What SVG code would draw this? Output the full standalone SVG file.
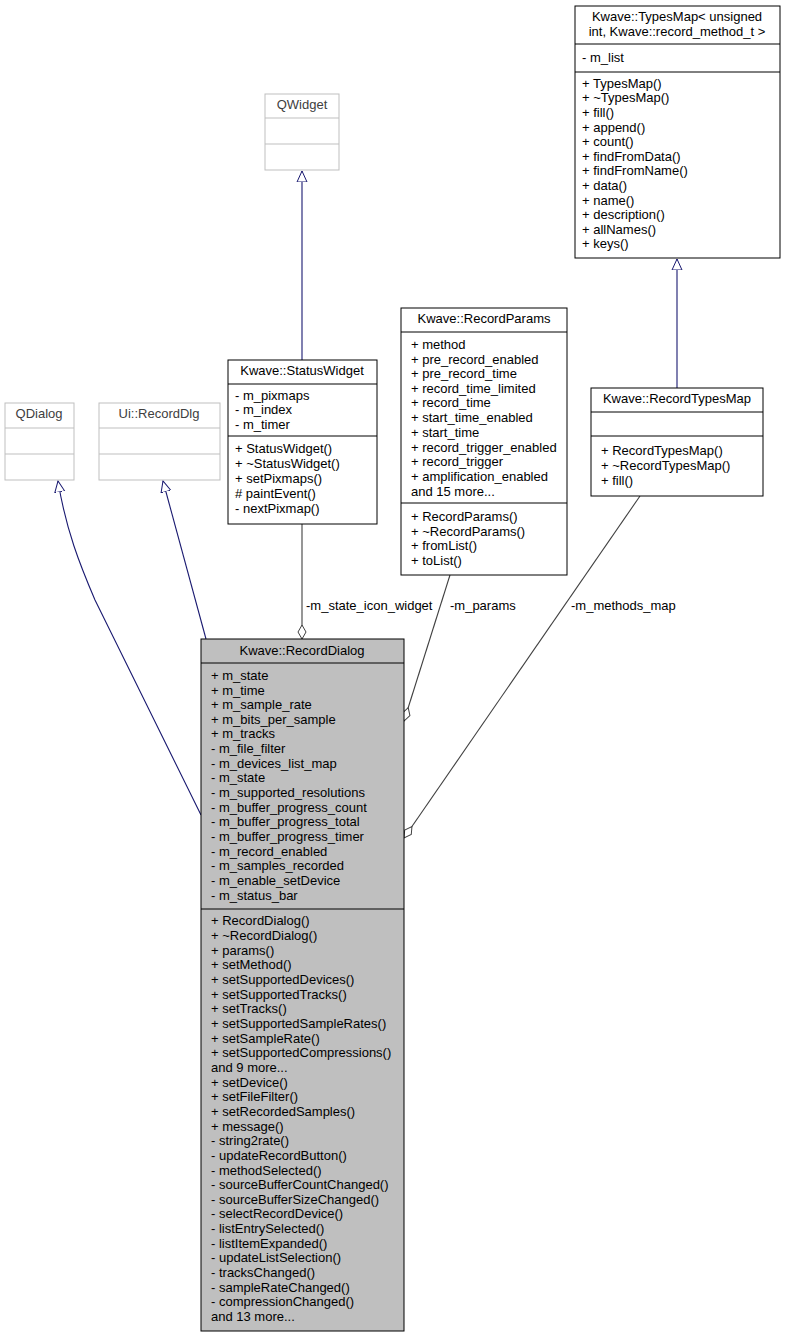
<svg xmlns="http://www.w3.org/2000/svg" width="785" height="1337" viewBox="0 0 785 1337">
<style>
text{font-family:"Liberation Sans",Arial,sans-serif;font-size:13px;fill:#000}
.c{text-anchor:middle}
.b{fill:#fff;stroke:#000;stroke-width:1}
.g{fill:#fff;stroke:#bfbfbf;stroke-width:1}
.s{stroke:#000;stroke-width:1}
.sg{stroke:#bfbfbf;stroke-width:1}
.gt{fill:#404040}
.inh{fill:none;stroke:#191970;stroke-width:1.1}
.cmp{fill:none;stroke:#404040;stroke-width:1.1}
</style>
<defs>
<marker id="tri" markerWidth="12" markerHeight="12" refX="11" refY="5" orient="auto" markerUnits="userSpaceOnUse" viewBox="0 0 12 10"><path d="M0,0 L11,5 L0,10 Z" fill="#fff" stroke="#191970"/></marker>
<marker id="dia" markerWidth="16" markerHeight="10" refX="15" refY="5" orient="auto" markerUnits="userSpaceOnUse" viewBox="0 0 16 10"><path d="M1,5 L8,1 L15,5 L8,9 Z" fill="#fff" stroke="#404040"/></marker>
</defs>
<rect width="785" height="1337" fill="#fff"/>
<g id="edges">
<path class="inh" d="M302,360 L302,171" marker-end="url(#tri)"/>
<path class="inh" d="M677,388 L677,259" marker-end="url(#tri)"/>
<path class="inh" d="M201,815 L95,600 C80,565 66,530 58,481" marker-end="url(#tri)"/>
<path class="inh" d="M206,639 L163,481" marker-end="url(#tri)"/>
<path class="cmp" d="M302,524 L302,639" marker-end="url(#dia)"/>
<path class="cmp" d="M450,575 L404,721" marker-end="url(#dia)"/>
<path class="cmp" d="M640,496 L404,838" marker-end="url(#dia)"/>
<text x="306" y="610">-m_state_icon_widget</text>
<text x="450" y="610">-m_params</text>
<text x="571" y="610">-m_methods_map</text>
</g>
<g id="typesmap">
<rect class="b" x="575" y="6" width="205" height="252"/>
<text class="c" x="677" y="21">Kwave::TypesMap&lt; unsigned</text>
<text class="c" x="677" y="36"> int, Kwave::record_method_t &gt;</text>
<line class="s" x1="575" y1="44" x2="780" y2="44"/>
<text x="582" y="62">- m_list</text>
<line class="s" x1="575" y1="72" x2="780" y2="72"/>
<text x="582" y="88">+ TypesMap()</text>
<text x="582" y="102">+ ~TypesMap()</text>
<text x="582" y="117">+ fill()</text>
<text x="582" y="132">+ append()</text>
<text x="582" y="146">+ count()</text>
<text x="582" y="161">+ findFromData()</text>
<text x="582" y="175">+ findFromName()</text>
<text x="582" y="190">+ data()</text>
<text x="582" y="205">+ name()</text>
<text x="582" y="219">+ description()</text>
<text x="582" y="234">+ allNames()</text>
<text x="582" y="248">+ keys()</text>
</g>
<g id="qwidget">
<rect class="g" x="265" y="94" width="74" height="76"/>
<text class="c gt" x="302" y="109">QWidget</text>
<line class="sg" x1="265" y1="118" x2="339" y2="118"/>
<line class="sg" x1="265" y1="144" x2="339" y2="144"/>
</g>
<g id="statuswidget">
<rect class="b" x="228" y="360" width="149" height="164"/>
<text class="c" x="302" y="375">Kwave::StatusWidget</text>
<line class="s" x1="228" y1="384" x2="377" y2="384"/>
<text x="235" y="400">- m_pixmaps</text>
<text x="235" y="414">- m_index</text>
<text x="235" y="429">- m_timer</text>
<line class="s" x1="228" y1="436" x2="377" y2="436"/>
<text x="235" y="453">+ StatusWidget()</text>
<text x="235" y="468">+ ~StatusWidget()</text>
<text x="235" y="483">+ setPixmaps()</text>
<text x="235" y="498"># paintEvent()</text>
<text x="235" y="513">- nextPixmap()</text>
</g>
<g id="recordparams">
<rect class="b" x="401" y="308" width="166" height="267"/>
<text class="c" x="484" y="323">Kwave::RecordParams</text>
<line class="s" x1="401" y1="332" x2="567" y2="332"/>
<text x="411" y="349">+ method</text>
<text x="411" y="364">+ pre_record_enabled</text>
<text x="411" y="378">+ pre_record_time</text>
<text x="411" y="393">+ record_time_limited</text>
<text x="411" y="407">+ record_time</text>
<text x="411" y="422">+ start_time_enabled</text>
<text x="411" y="437">+ start_time</text>
<text x="411" y="452">+ record_trigger_enabled</text>
<text x="411" y="466">+ record_trigger</text>
<text x="411" y="481">+ amplification_enabled</text>
<text x="411" y="496">and 15 more...</text>
<line class="s" x1="401" y1="503" x2="567" y2="503"/>
<text x="411" y="521">+ RecordParams()</text>
<text x="411" y="536">+ ~RecordParams()</text>
<text x="411" y="550">+ fromList()</text>
<text x="411" y="565">+ toList()</text>
</g>
<g id="recordtypesmap">
<rect class="b" x="591" y="388" width="172" height="108"/>
<text class="c" x="677" y="403">Kwave::RecordTypesMap</text>
<line class="s" x1="591" y1="412" x2="763" y2="412"/>
<line class="s" x1="591" y1="436" x2="763" y2="436"/>
<text x="601" y="455">+ RecordTypesMap()</text>
<text x="601" y="470">+ ~RecordTypesMap()</text>
<text x="601" y="485">+ fill()</text>
</g>
<g id="qdialog">
<rect class="g" x="5" y="403" width="69" height="77"/>
<text class="c gt" x="39" y="418">QDialog</text>
<line class="sg" x1="5" y1="428" x2="74" y2="428"/>
<line class="sg" x1="5" y1="454" x2="74" y2="454"/>
</g>
<g id="uirecorddlg">
<rect class="g" x="99" y="403" width="121" height="77"/>
<text class="c gt" x="159" y="418">Ui::RecordDlg</text>
<line class="sg" x1="99" y1="428" x2="220" y2="428"/>
<line class="sg" x1="99" y1="454" x2="220" y2="454"/>
</g>
<g id="recorddialog">
<rect x="201" y="639" width="203" height="692" fill="#bfbfbf" stroke="#000"/>
<text class="c" x="302" y="655">Kwave::RecordDialog</text>
<line class="s" x1="201" y1="663" x2="404" y2="663"/>
<text x="211" y="680">+ m_state</text>
<text x="211" y="695">+ m_time</text>
<text x="211" y="709">+ m_sample_rate</text>
<text x="211" y="724">+ m_bits_per_sample</text>
<text x="211" y="738">+ m_tracks</text>
<text x="211" y="753">- m_file_filter</text>
<text x="211" y="768">- m_devices_list_map</text>
<text x="211" y="782">- m_state</text>
<text x="211" y="797">- m_supported_resolutions</text>
<text x="211" y="812">- m_buffer_progress_count</text>
<text x="211" y="826">- m_buffer_progress_total</text>
<text x="211" y="841">- m_buffer_progress_timer</text>
<text x="211" y="856">- m_record_enabled</text>
<text x="211" y="870">- m_samples_recorded</text>
<text x="211" y="885">- m_enable_setDevice</text>
<text x="211" y="900">- m_status_bar</text>
<line class="s" x1="201" y1="909" x2="404" y2="909"/>
<text x="211" y="925">+ RecordDialog()</text>
<text x="211" y="940">+ ~RecordDialog()</text>
<text x="211" y="955">+ params()</text>
<text x="211" y="969">+ setMethod()</text>
<text x="211" y="984">+ setSupportedDevices()</text>
<text x="211" y="999">+ setSupportedTracks()</text>
<text x="211" y="1013">+ setTracks()</text>
<text x="211" y="1028">+ setSupportedSampleRates()</text>
<text x="211" y="1043">+ setSampleRate()</text>
<text x="211" y="1057">+ setSupportedCompressions()</text>
<text x="211" y="1072">and 9 more...</text>
<text x="211" y="1087">+ setDevice()</text>
<text x="211" y="1101">+ setFileFilter()</text>
<text x="211" y="1116">+ setRecordedSamples()</text>
<text x="211" y="1131">+ message()</text>
<text x="211" y="1145">- string2rate()</text>
<text x="211" y="1160">- updateRecordButton()</text>
<text x="211" y="1175">- methodSelected()</text>
<text x="211" y="1189">- sourceBufferCountChanged()</text>
<text x="211" y="1204">- sourceBufferSizeChanged()</text>
<text x="211" y="1218">- selectRecordDevice()</text>
<text x="211" y="1233">- listEntrySelected()</text>
<text x="211" y="1248">- listItemExpanded()</text>
<text x="211" y="1262">- updateListSelection()</text>
<text x="211" y="1277">- tracksChanged()</text>
<text x="211" y="1292">- sampleRateChanged()</text>
<text x="211" y="1306">- compressionChanged()</text>
<text x="211" y="1321">and 13 more...</text>
</g>
</svg>
